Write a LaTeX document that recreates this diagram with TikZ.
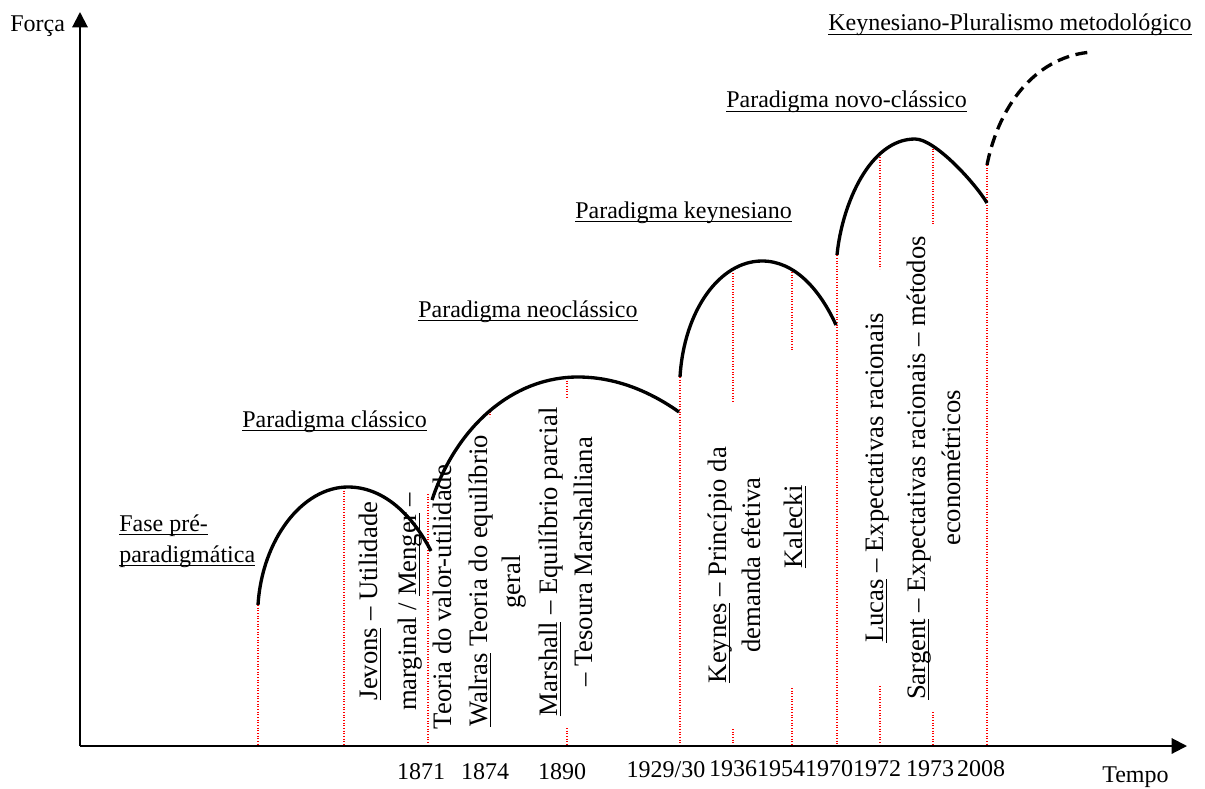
\documentclass[tikz,border=0pt]{standalone}
\usepackage{fontspec}
\setmainfont{Liberation Serif}
\usetikzlibrary{arrows.meta}
\newcommand\ulx[1]{\setbox0=\hbox{#1}\rlap{\rule[-3.3pt]{\wd0}{1pt}}\box0\relax}
\tikzset{
  hlab/.style={inner sep=0pt, anchor=base west, font=\fontsize{18}{23}\selectfont},
  vlab/.style={inner sep=0pt, anchor=base, rotate=90, font=\fontsize{20}{26}\selectfont},
  yearlab/.style={inner sep=0pt, anchor=base, font=\fontsize{18}{22}\selectfont},
  paradigm/.style={line width=2.5pt},
  future/.style={line width=2.5pt, dash pattern=on 9pt off 5pt},
  redguide/.style={red, line width=0.8pt, dash pattern=on 0.8pt off 1.2pt},
  axisline/.style={line width=1.5pt, -{Triangle[length=11.5pt,width=11.5pt]}},
}
\begin{document}
\begin{tikzpicture}[x=0.75pt,y=-0.75pt]
\useasboundingbox (0,0) rectangle (1205,788);
\fill[white] (0,0) rectangle (1205,788);

% red dotted guide lines
\draw[redguide] (258,605) -- (258,746);
\draw[redguide] (344,488) -- (344,746);
\draw[redguide] (428,494) -- (428,746);
\draw[redguide] (490,409) -- (490,417);
\draw[redguide] (567,378) -- (567,398);
\draw[redguide] (567,728) -- (567,746);
\draw[redguide] (680,377) -- (680,746);
\draw[redguide] (733,273) -- (733,403);
\draw[redguide] (733,729) -- (733,746);
\draw[redguide] (792,272) -- (792,350);
\draw[redguide] (792,688) -- (792,746);
\draw[redguide] (837,250) -- (837,746);
\draw[redguide] (880,157) -- (880,269);
\draw[redguide] (880,686) -- (880,746);
\draw[redguide] (933,146) -- (933,225);
\draw[redguide] (933,712) -- (933,746);
\draw[redguide] (987,165) -- (987,746);

% axes
\coordinate (O) at (80,746);
\coordinate (ytip) at (80,12);
\coordinate (xtip) at (1187,746);
\draw[axisline] (O) -- (ytip);
\draw[axisline] (O) -- (xtip);
\node[hlab] (forca) at (10,32) {Força};
\node[hlab] (tempo) at (1102,782) {Tempo};

% paradigm curves
\draw[paradigm] (258,605) .. controls (262,540) and (302,487) .. (348,487)
                          .. controls (387,487) and (415,520) .. (431,551);
\draw[paradigm] (432,500) .. controls (455,430) and (510,377) .. (578,377)
                          .. controls (620,377) and (655,395) .. (679,412);
\draw[paradigm] (680,377) .. controls (684,310) and (720,261) .. (762,261)
                          .. controls (795,261) and (820,290) .. (836,325);
\draw[paradigm] (837,255) .. controls (842,204) and (870,139) .. (915,139)
                          .. controls (935,139) and (975,183) .. (987,203);
\draw[future] (987,165) .. controls (1000,100) and (1040,55) .. (1093,52);

% paradigm titles
\node[hlab] (fase1) at (119,531) {\ulx{Fase pré-}};
\node[hlab] (fase2) at (119,562) {\ulx{paradigmática}};
\node[hlab] (classico) at (242,427) {\ulx{Paradigma clássico}};
\node[hlab] (neo) at (418,317) {\ulx{Paradigma neoclássico}};
\node[hlab] (keyn) at (575,218) {\ulx{Paradigma keynesiano}};
\node[hlab] (novo) at (726,108) {\ulx{Paradigma novo-clássico}};
\node[hlab] (plural) at (828,31) {\ulx{Keynesiano-Pluralismo metodológico}};

% vertical texts
\node[vlab] (jev1) at (377,601) {\ulx{Jevons} – Utilidade};
\node[vlab] (jev2) at (416,602) {marginal / \ulx{Menger} –};
\node[vlab] (jev3) at (451,597) {Teoria do valor-utilidade};
\node[vlab] (wal1) at (487,581) {\ulx{Walras} Teoria do equilíbrio};
\node[vlab] (wal2) at (520,582) {geral};
\node[vlab] (mar1) at (557,562) {\ulx{Marshall} – Equilíbrio parcial};
\node[vlab] (mar2) at (592,562) {– Tesoura Marshalliana};
\node[vlab] (key1) at (726,565) {\ulx{Keynes} – Princípio da};
\node[vlab] (key2) at (760,565) {demanda efetiva};
\node[vlab] (kal) at (802,527) {\ulx{Kalecki}};
\node[vlab] (luc) at (883,478) {\ulx{Lucas} – Expectativas racionais};
\node[vlab] (sar1) at (925,468) {\ulx{Sargent} – Expectativas racionais – métodos};
\node[vlab] (sar2) at (960,468) {econométricos};

% years
\node[yearlab] (y1871) at (421,779) {1871};
\node[yearlab] (y1874) at (485,779) {1874};
\node[yearlab] (y1890) at (562,779) {1890};
\node[yearlab] (y1929) at (666,777) {1929/30};
\node[yearlab] (y1936) at (733,776) {1936};
\node[yearlab] (y1954) at (781,776) {1954};
\node[yearlab] (y1970) at (829,776) {1970};
\node[yearlab] (y1972) at (877,776) {1972};
\node[yearlab] (y1973) at (930,776) {1973};
\node[yearlab] (y2008) at (981,776) {2008};
\end{tikzpicture}
\end{document}
